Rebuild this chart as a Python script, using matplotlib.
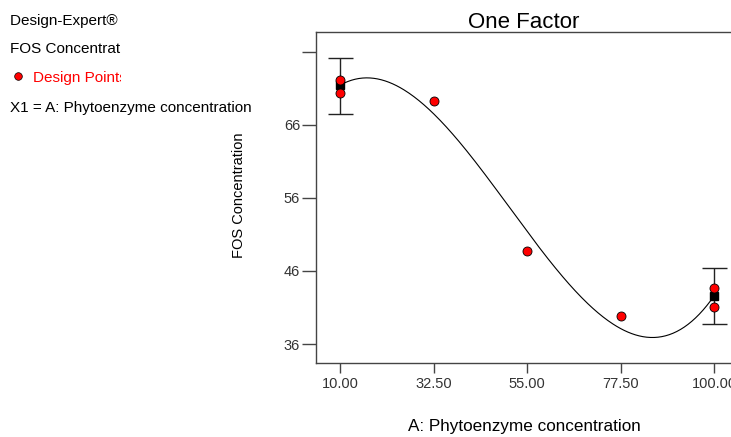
import numpy as np
import matplotlib
matplotlib.use("Agg")
import matplotlib.pyplot as plt
from matplotlib.transforms import Bbox

plt.rcParams['font.family'] = ['Liberation Sans', 'DejaVu Sans']

# Data
x_pts = [10.0, 10.0, 32.5, 55.0, 77.5, 100.0, 100.0]
y_pts = [72.1, 70.3, 69.3, 48.7, 39.9, 43.7, 41.1]
mean_x = [10.0, 100.0]
mean_y = [71.5, 42.6]
ci_low = [67.5, 38.7]
ci_high = [75.2, 46.4]
xticks = [10.0, 32.5, 55.0, 77.5, 100.0]
xtick_labels = ["10.00", "32.50", "55.00", "77.50", "100.00"]
yticks = [36, 46, 56, 66, 76]
ytick_labels = ["36", "46", "56", "66", ""]

W, H = 731, 437
fig = plt.figure(figsize=(W / 100, H / 100), dpi=100)
ax = fig.add_axes([316 / W, 74 / H, 417 / W, 331 / H])
ax.set_xlim(4.2, 104.5)
ax.set_ylim(33.4, 78.7)

# fitted cubic model curve
coef = np.polyfit(x_pts, y_pts, 3)
xs = np.linspace(10, 100, 300)
ax.plot(xs, np.polyval(coef, xs), color='black', lw=0.8, zorder=2)

# error bars with means
yerr = [np.array(mean_y) - np.array(ci_low), np.array(ci_high) - np.array(mean_y)]
ax.errorbar(mean_x, mean_y, yerr=yerr, fmt='none', ecolor='#222222', elinewidth=1,
            capsize=9, capthick=1, zorder=3)
ax.plot(mean_x, mean_y, 's', color='black', ms=6, zorder=4)
ax.plot(x_pts, y_pts, 'o', mfc='red', mec='black', mew=0.6, ms=6.5, zorder=5)

for s in ['left', 'bottom', 'top']:
    ax.spines[s].set_color('#444444')
    ax.spines[s].set_linewidth(1)
ax.spines['right'].set_visible(False)

ax.set_xticks(xticks)
ax.set_xticklabels(xtick_labels)
ax.set_yticks(yticks)
ax.set_yticklabels(ytick_labels)
ax.tick_params(axis='both', direction='out', width=1, color='#444444',
               labelsize=10.5, labelcolor='#333333')
ax.tick_params(axis='x', length=7, pad=3)
ax.tick_params(axis='y', length=10, pad=1.5)

fig.text(524 / W, 1 - 22 / H, "One Factor", ha='center', va='center', fontsize=16)
fig.text(524 / W, 1 - 426 / H, "A: Phytoenzyme concentration", ha='center', va='center',
         fontsize=12.3)
fig.text(239 / W, 1 - 195 / H, "FOS Concentration", ha='center', va='center',
         rotation=90, fontsize=10.5)

clip = Bbox.from_extents(0, 0, 121, H)
t1 = fig.text(10 / W, 1 - 21 / H, "Design-Expert\u00ae Software", ha='left', va='center', fontsize=11)
t2 = fig.text(10 / W, 1 - 49 / H, "FOS Concentration", ha='left', va='center', fontsize=11)
t3 = fig.text(33 / W, 1 - 78 / H, "Design Points", ha='left', va='center', fontsize=11, color='red')
for t in (t1, t2, t3):
    t.set_clip_box(clip)
    t.set_clip_on(True)
fig.text(10 / W, 1 - 108 / H, "X1 = A: Phytoenzyme concentration", ha='left', va='center',
         fontsize=11)
fig.add_artist(plt.Line2D([18 / W], [1 - 76 / H], marker='o', mfc='red', mec='black',
                          mew=0.5, ms=5.5, transform=fig.transFigure))

fig.savefig("out.png", dpi=100)
